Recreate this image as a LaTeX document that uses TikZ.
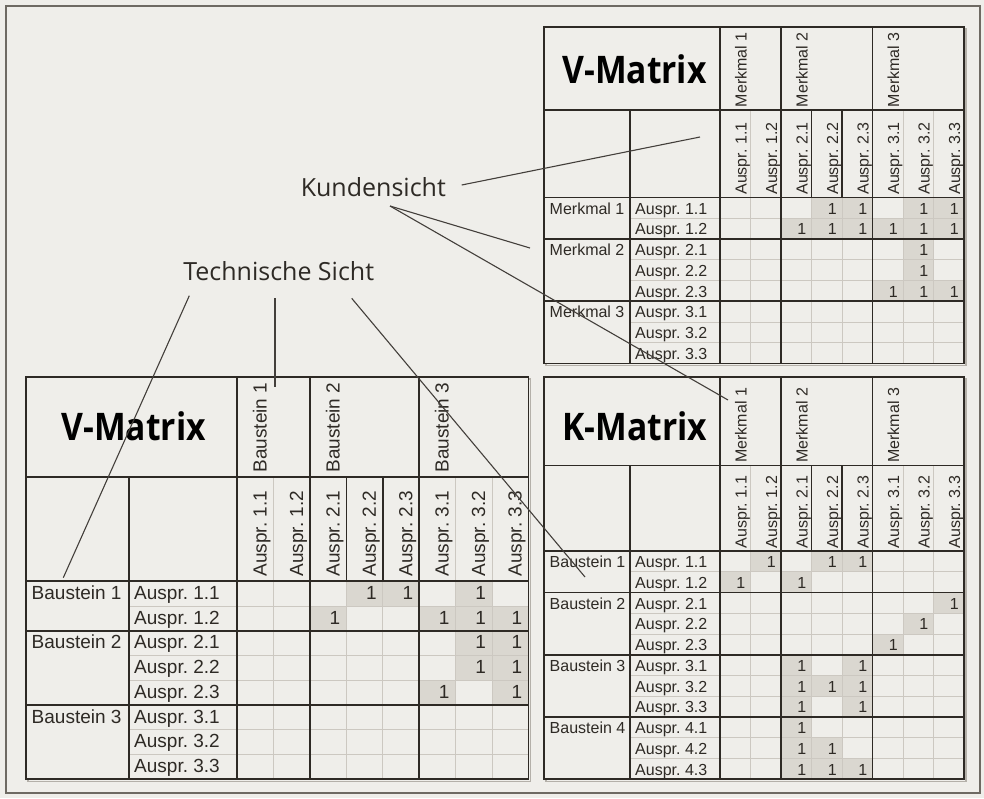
\documentclass[tikz,border=0pt]{standalone}
\usepackage{fontspec}
\setmainfont{Liberation Sans}
\newfontfamily\labfont{Open Sans}
\usetikzlibrary{calc}
\definecolor{bgc}{HTML}{EFEEEA}
\definecolor{shadec}{HTML}{DAD7D0}
\definecolor{gridc}{HTML}{CCC8C1}
\definecolor{darkc}{HTML}{2E2A25}
\definecolor{framec}{HTML}{6E6A63}
\definecolor{shadowc}{HTML}{B4B0A9}

\tikzset{
  darkline/.style={draw=darkc, line width=1.8pt},
  gridline/.style={draw=gridc, line width=1pt},
  conn/.style={draw=darkc!90, line width=1.1pt},
  rotlab/.style={rotate=90, anchor=base west, inner sep=0pt, text=darkc},
  rowlab/.style={anchor=base west, inner sep=0pt, text=darkc},
  vallab/.style={anchor=base east, inner sep=0pt, text=darkc},
  titlelab/.style={inner sep=0pt, text=black, font=\labfont\bfseries\fontsize{38}{40}\selectfont},
  viewlab/.style={anchor=base, inner sep=0pt, text=darkc, font=\labfont\fontsize{25}{28}\selectfont},
}

\newcommand{\drawgrid}{%
  \pgfmathsetmacro{\tRt}{\tX+8*\tW}%
  \pgfmathsetmacro{\tBot}{\tHb+\tN*\tR}%
  \draw[shadowc, line width=1.5pt] (\tL+2,\tT+2) rectangle (\tRt+2,\tBot+2);
  \fill[bgc] (\tL,\tT) rectangle (\tRt,\tBot);
  \foreach \c/\r in \tcells {
    \fill[shadec] (\tX+\c*\tW-\tW,\tHb+\r*\tR-\tR) rectangle (\tX+\c*\tW,\tHb+\r*\tR);
  }
  \foreach \k in {1,3,4,6,7} \draw[gridline] (\tX+\k*\tW,\tHb) -- (\tX+\k*\tW,\tBot);
  \foreach \k in {1,6,7} \draw[gridline] (\tX+\k*\tW,\tHa) -- (\tX+\k*\tW,\tHb);
  \foreach \r in \tlight \draw[gridline] (\tC,\tHb+\r*\tR) -- (\tRt,\tHb+\r*\tR);
  \foreach \k in {3,4} \draw[darkline] (\tX+\k*\tW,\tHa) -- (\tX+\k*\tW,\tHb);
  \foreach \r in \tdark \draw[darkline] (\tL,\tHb+\r*\tR) -- (\tRt,\tHb+\r*\tR);
  \draw[darkline] (\tL,\tHa) -- (\tRt,\tHa) (\tL,\tHb) -- (\tRt,\tHb);
  \draw[darkline] (\tC,\tHa) -- (\tC,\tBot);
  \foreach \k in {0,2,5} \draw[darkline] (\tX+\k*\tW,\tT) -- (\tX+\k*\tW,\tBot);
  \draw[darkline] (\tL,\tT) rectangle (\tRt,\tBot);
  % values
  \foreach \c/\r in \tcells {
    \node[vallab, font=\tfont] (\tp-v\c-\r) at (\tX+\c*\tW-\tVP,\tHb+\r*\tR-\tR+\tRB) {1};
  }
  % column headers
  \foreach \k/\t in {0/1,2/2,5/3} {
    \node[rotlab, font=\tfont] (\tp-g\t) at (\tX+\k*\tW+\tBO,\tHa-\tPD) {\tgname~\t};
  }
  \foreach \k/\t in {0/1.1,1/1.2,2/2.1,3/2.2,4/2.3,5/3.1,6/3.2,7/3.3} {
    \node[rotlab, font=\tfont] (\tp-s\k) at (\tX+\k*\tW+\tBO,\tHb-\tPD) {Auspr.~\t};
  }
  % row headers
  \foreach \r/\t in \tgrows {
    \node[rowlab, font=\tfont] (\tp-rg\t) at (\tL+5.5,\tHb+\r*\tR+\tRB) {\trname~\t};
  }
  \foreach \r/\t in \tsrows {
    \node[rowlab, font=\tfont] (\tp-rs\r) at (\tC+5,\tHb+\r*\tR+\tRB) {Auspr.~\t};
  }
}

\begin{document}
\begin{tikzpicture}[x=1pt,y=-1pt]
\useasboundingbox (0,0) rectangle (984,798);
\fill[bgc] (0,0) rectangle (984,798);
\draw[framec, line width=2pt] (6,5.5) rectangle (979.5,792.5);

% ---------- V-Matrix (Kundensicht), top right ----------
\begin{scope}
\def\tp{vk}
\def\tL{544}\def\tC{630}\def\tX{720}\def\tW{30.5}
\def\tT{27}\def\tHa{110}\def\tHb{197.5}\def\tR{20.75}\def\tN{8}
\def\tBO{26.6}\def\tPD{2.7}\def\tRB{16.5}\def\tVP{5}
\def\tfont{\fontsize{16}{18}\selectfont}
\def\tgname{Merkmal}\def\trname{Merkmal}
\def\tlight{1,3,4,6,7}\def\tdark{2,5}
\def\tgrows{0/1,2/2,5/3}
\def\tsrows{0/1.1,1/1.2,2/2.1,3/2.2,4/2.3,5/3.1,6/3.2,7/3.3}
\def\tcells{4/1,5/1,7/1,8/1,3/2,4/2,5/2,6/2,7/2,8/2,7/3,7/4,6/5,7/5,8/5}
\drawgrid
\node[titlelab] (vk-title) at (634.5,69) {\scalebox{0.885}[1]{V-Matrix}};
\end{scope}

% ---------- K-Matrix, bottom right ----------
\begin{scope}
\def\tp{km}
\def\tL{544}\def\tC{630}\def\tX{720}\def\tW{30.5}
\def\tT{377}\def\tHa{465.5}\def\tHb{551}\def\tR{20.75}\def\tN{11}
\def\tBO{26.6}\def\tPD{2.7}\def\tRB{16.5}\def\tVP{5}
\def\tfont{\fontsize{16}{18}\selectfont}
\def\tgname{Merkmal}\def\trname{Baustein}
\def\tlight{1,3,4,6,7,9,10}\def\tdark{2,5,8}
\def\tgrows{0/1,2/2,5/3,8/4}
\def\tsrows{0/1.1,1/1.2,2/2.1,3/2.2,4/2.3,5/3.1,6/3.2,7/3.3,8/4.1,9/4.2,10/4.3}
\def\tcells{2/1,4/1,5/1,1/2,3/2,8/3,7/4,6/5,3/6,5/6,3/7,4/7,5/7,3/8,5/8,3/9,3/10,4/10,3/11,4/11,5/11}
\drawgrid
\node[titlelab] (km-title) at (635,426) {\scalebox{0.885}[1]{K-Matrix}};
\end{scope}

% ---------- V-Matrix (technische Sicht), bottom left ----------
\begin{scope}
\def\tp{vt}
\def\tL{26}\def\tC{129}\def\tX{237.3}\def\tW{36.4}
\def\tT{377}\def\tHa{477.3}\def\tHb{581.3}\def\tR{24.75}\def\tN{8}
\def\tBO{29.4}\def\tPD{4.6}\def\tRB{18}\def\tVP{6}
\def\tfont{\fontsize{19}{21}\selectfont}
\def\tgname{Baustein}\def\trname{Baustein}
\def\tlight{1,3,4,6,7}\def\tdark{2,5}
\def\tgrows{0/1,2/2,5/3}
\def\tsrows{0/1.1,1/1.2,2/2.1,3/2.2,4/2.3,5/3.1,6/3.2,7/3.3}
\def\tcells{4/1,5/1,7/1,3/2,6/2,7/2,8/2,7/3,8/3,7/4,8/4,6/5,8/5}
\drawgrid
\node[titlelab] (vt-title) at (133.7,426.5) {\scalebox{0.885}[1]{V-Matrix}};
\end{scope}

% ---------- view labels and connectors ----------
\node[viewlab] (kunden) at (373.3,196.7) {Kundensicht};
\node[viewlab] (techn) at (278.7,280.7) {Technische Sicht};

\coordinate (k1s) at (461.7,185);
\coordinate (k1e) at (700,137);
\coordinate (k2s) at (390,206);
\coordinate (k2e) at (530,248);
\coordinate (k3e) at (728,400);
\coordinate (t1s) at (189.3,295.7);
\coordinate (t1e) at (63.3,577.7);
\coordinate (t2s) at (275,298.3);
\coordinate (t2e) at (275,387.3);
\coordinate (t3s) at (351.7,298.3);
\coordinate (t3e) at (585,577);

\draw[conn] (k1s) -- (k1e);
\draw[conn] (k2s) -- (k2e);
\draw[conn] (k2s) -- (k3e);
\draw[conn] (t1s) -- (t1e);
\draw[conn] (t2s) -- (t2e);
\draw[conn] (t3s) -- (t3e);
\end{tikzpicture}
\end{document}
